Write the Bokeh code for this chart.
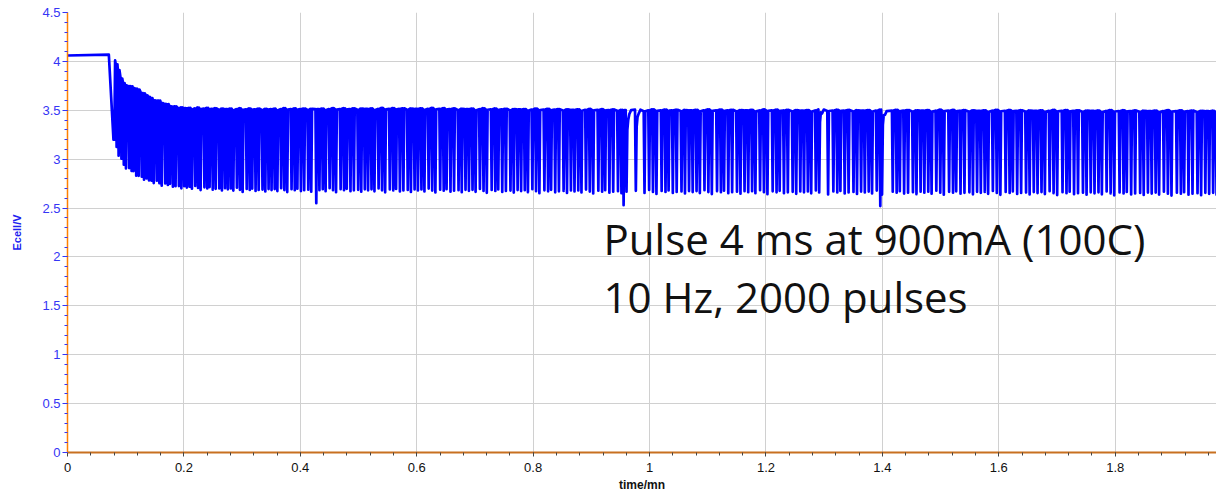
from bokeh.plotting import figure
from bokeh.models import SingleIntervalTicker, CustomJSTickFormatter, Label, Range1d, ColumnDataSource
from bokeh.embed import file_html
from bokeh.resources import INLINE
import numpy as np

# ---------------- data ----------------
# rest potential before pulsing (time in min, Ecell in V)
rest_t = [0.0, 0.071]
rest_v = [4.06, 4.07]
first_drop_t = 0.079
first_drop_v = 3.20

# envelopes of the pulse train (top = relaxed value, bottom = under pulse)
env_t   = [0.079, 0.086, 0.094, 0.117, 0.143, 0.177, 0.203, 0.300, 0.600, 1.000, 1.600, 1.990]
env_top = [4.01, 3.93, 3.77, 3.72, 3.62, 3.54, 3.52, 3.51, 3.515, 3.50, 3.495, 3.49]
env_bot = [3.20, 3.05, 2.95, 2.84, 2.77, 2.73, 2.71, 2.685, 2.68, 2.665, 2.655, 2.645]

# apparent spacing of the sampled pulses (min)
spacing_t = [0.079, 0.250, 0.450, 0.950, 1.990]
spacing_v = [0.0040, 0.0050, 0.0058, 0.0066, 0.0069]
spacing_pattern = [1.0, 0.85, 1.2, 1.0, 0.9, 1.35, 1.0, 0.8, 1.1, 1.0, 1.25, 0.9, 1.05, 0.95]
bottom_pattern = [0.0, 0.01, -0.01, 0.02, 0.0, -0.02, 0.01, 0.0, 0.015, -0.01, 0.0, 0.005, -0.015, 0.01]
top_pattern = [0.0, 0.005, -0.01, 0.0, 0.01, -0.005, 0.0, 0.008, -0.004, 0.0, 0.006, -0.008, 0.003, 0.0]

# isolated deeper dips
dip_t = [0.426, 0.954, 1.395]
dip_v = [2.55, 2.53, 2.52]
# pulses followed by a slow recovery
rec_t = [0.959, 0.975, 1.290, 1.398]
rec_v = [3.30, 3.33, 3.38, 3.35]

x_ticks_interval = 0.2
y_ticks_interval = 0.5

# ---------------- build trace ----------------
xs = list(rest_t)
ys = list(rest_v)
xs.append(first_drop_t)
ys.append(first_drop_v)

hw = 0.0014
events = sorted([(a, 'rec', b) for a, b in zip(rec_t, rec_v)] +
                [(a, 'dip', b) for a, b in zip(dip_t, dip_v)])
t = first_drop_t
i = 0
ei = 0
t_end = env_t[-1]
while t < t_end:
    kind, ev = 'norm', None
    if ei < len(events) and t + 0.003 >= events[ei][0]:
        t, kind, ev = events[ei]
        ei += 1
    top = float(np.interp(t, env_t, env_top)) + top_pattern[i % len(top_pattern)]
    bot = float(np.interp(t, env_t, env_bot)) + bottom_pattern[i % len(bottom_pattern)]
    if kind == 'dip':
        bot = ev
    if i > 0:
        xs.append(t)
        ys.append(top)
    xs.append(t + hw)
    ys.append(bot)
    if kind == 'rec':
        xs += [t + 2 * hw, t + 2 * hw + 0.0015, t + 2 * hw + 0.0035, t + 2 * hw + 0.0065]
        ys += [ev, ev + 0.1, top - 0.04, top]
        t = t + 2 * hw + 0.0065
    else:
        xs.append(t + 2 * hw)
        ys.append(top)
    step = float(np.interp(t, spacing_t, spacing_v)) * spacing_pattern[i % len(spacing_pattern)]
    t += step
    i += 1

src = ColumnDataSource(dict(x=xs, y=ys))

# ---------------- figure ----------------
p = figure(width=1216, height=494, output_backend="svg", toolbar_location=None,
           x_range=Range1d(0, 1.974), y_range=Range1d(0, 4.5),
           min_border_left=67, min_border_right=0, min_border_top=12, min_border_bottom=35)
p.outline_line_color = None
p.background_fill_color = "white"
p.border_fill_color = "white"

p.line('x', 'y', source=src, line_color="#0000ff", line_width=2.7, line_join="round")

fmt = CustomJSTickFormatter(code="return String(Math.round(tick*100)/100);")

p.xaxis.ticker = SingleIntervalTicker(interval=x_ticks_interval, num_minor_ticks=5)
p.yaxis.ticker = SingleIntervalTicker(interval=y_ticks_interval, num_minor_ticks=5)
p.xaxis.formatter = fmt
p.yaxis.formatter = fmt

p.xgrid.grid_line_color = "#d0d0d0"
p.ygrid.grid_line_color = "#d0d0d0"
p.xgrid.grid_line_width = 1
p.ygrid.grid_line_width = 1

# y axis
ya = p.yaxis[0]
ya.axis_line_color = "#ff8000"
ya.axis_line_width = 1.5
ya.major_tick_line_color = "#3535f5"
ya.minor_tick_line_color = "#3535f5"
ya.major_tick_out = 5
ya.major_tick_in = 0
ya.minor_tick_out = 3
ya.minor_tick_in = 0
ya.major_label_text_color = "#3535f5"
ya.major_label_text_font = "Liberation Sans"
ya.major_label_text_font_size = "13px"
ya.major_label_standoff = 2
ya.axis_label = "Ecell/V"
ya.axis_label_text_color = "#2020f0"
ya.axis_label_text_font = "Liberation Sans"
ya.axis_label_text_font_style = "bold"
ya.axis_label_text_font_size = "11px"
ya.axis_label_standoff = 16

# x axis
xa = p.xaxis[0]
xa.axis_line_color = "#c87020"
xa.axis_line_width = 2
xa.major_tick_line_color = "#444444"
xa.minor_tick_line_color = "#444444"
xa.major_tick_out = 4
xa.major_tick_in = 0
xa.minor_tick_out = 3
xa.minor_tick_in = 0
xa.major_label_text_color = "#111111"
xa.major_label_text_font = "Liberation Sans"
xa.major_label_text_font_size = "13px"
xa.major_label_standoff = 6
xa.axis_label = "time/mn"
xa.axis_label_text_color = "#111111"
xa.axis_label_text_font = "Liberation Sans"
xa.axis_label_text_font_style = "bold"
xa.axis_label_text_font_size = "12px"
xa.axis_label_standoff = 3

note1 = Label(x=0.921, y=2.19, text="Pulse 4 ms at 900mA (100C)", text_font="Open Sans",
              text_font_size="42px", text_color="#111111", text_baseline="alphabetic")
note2 = Label(x=0.921, y=1.60, text="10 Hz, 2000 pulses", text_font="Open Sans",
              text_font_size="42px", text_color="#111111", text_baseline="alphabetic")
p.add_layout(note1)
p.add_layout(note2)

open("out.html", "w").write(file_html(p, INLINE))
